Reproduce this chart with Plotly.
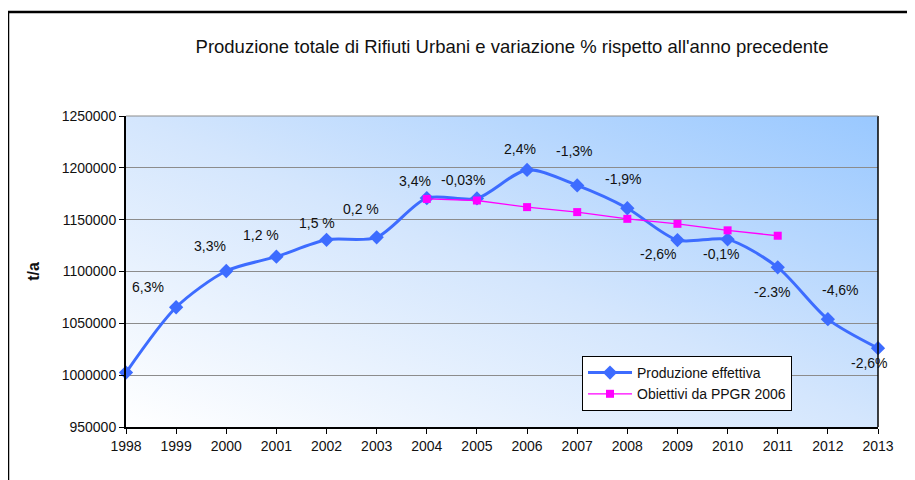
import plotly.graph_objects as go
import base64

# ---- data ----
years = list(range(1998, 2014))
produzione = [1002500, 1065500, 1100500, 1114300, 1130600, 1133000, 1170800, 1170500,
              1198000, 1183000, 1161000, 1130300, 1131000, 1104000, 1054000, 1026000]
obiettivi_years = list(range(2004, 2012))
obiettivi = [1170000, 1168500, 1162100, 1157300, 1150800, 1146000, 1139700, 1134500]
variazioni = ["6,3%", "3,3%", "1,2 %", "1,5 %", "0,2 %", "3,4%", "-0,03%", "2,4%",
              "-1,3%", "-1,9%", "-2,6%", "-0,1%", "-2.3%", "-4,6%", "-2,6%"]
variazioni_years = list(range(1999, 2014))
# label pixel offsets (style)
lbl_dx = [-28, -16, -15, -10, -16, -12, -14, -7, -3, -4, -19, -6, -5, 13, -9]
lbl_dy = [20, 25, 22, 17, 28, 17, 18, 21, 34, 29, -14, -15, -25, 29, -15]

FONT = "Arial, Liberation Sans, sans-serif"
BLUE = "#3D6CFF"
MAG = "#FF00FF"

# page body has an 8px margin -> figure is 8px smaller and offset
W, H = 907, 472
L, R, T, B = 118, 37, 108, 53
pw, ph = W - L - R, H - T - B

fig = go.Figure()
fig.add_trace(go.Scatter(
    x=years, y=produzione, name="Produzione effettiva", mode="lines+markers",
    line=dict(color=BLUE, width=3, shape="spline", smoothing=0.8),
    marker=dict(symbol="diamond", size=11, color=BLUE), cliponaxis=False))
fig.add_trace(go.Scatter(
    x=obiettivi_years, y=obiettivi, name="Obiettivi da PPGR 2006", mode="lines+markers",
    line=dict(color=MAG, width=1.3),
    marker=dict(symbol="square", size=8, color=MAG), cliponaxis=False))

val_by_year = dict(zip(years, produzione))
for yr, txt, dx, dy in zip(variazioni_years, variazioni, lbl_dx, lbl_dy):
    fig.add_annotation(x=yr, y=val_by_year[yr], text=txt, showarrow=False,
                       xshift=dx, yshift=dy, font=dict(family=FONT, size=14, color="#111"))

svg = ('<svg xmlns="http://www.w3.org/2000/svg" width="100" height="100" preserveAspectRatio="none">'
       '<defs><linearGradient id="g" x1="0" y1="1" x2="1" y2="0">'
       '<stop offset="0" stop-color="#FFFFFF"/><stop offset="0.5" stop-color="#D4E6FD"/>'
       '<stop offset="1" stop-color="#99C8FF"/></linearGradient></defs>'
       '<rect width="100" height="100" fill="url(#g)"/></svg>')
src = "data:image/svg+xml;base64," + base64.b64encode(svg.encode()).decode()
fig.add_layout_image(dict(source=src, xref="paper", yref="paper", x=0, y=1,
                          sizex=1, sizey=1, sizing="stretch", layer="below",
                          xanchor="left", yanchor="top"))

# outer frame (top & left)
fx = (0 - L) / pw
fy = 1 + (T - 4) / ph
fig.add_shape(type="line", xref="paper", yref="paper", x0=fx, x1=1.5, y0=fy, y1=fy,
              line=dict(color="black", width=2.5))
fig.add_shape(type="line", xref="paper", yref="paper", x0=fx, x1=fx, y0=-0.5, y1=fy,
              line=dict(color="black", width=2.5))

fig.update_layout(
    width=W, height=H,
    margin=dict(l=L, r=R, t=T, b=B),
    paper_bgcolor="white", plot_bgcolor="rgba(0,0,0,0)",
    font=dict(family=FONT, size=14, color="#111"),
    title=dict(text="Produzione totale di Rifiuti Urbani e variazione % rispetto all'anno precedente",
               x=(512 - 8 - L) / pw, xanchor="center", y=1 - (47 - 8) / H, yanchor="middle",
               xref="paper", yref="container",
               font=dict(family=FONT, size=18.5, color="#111")),
    showlegend=True,
    legend=dict(x=(582 - 8 - L) / pw, y=1 - (356 - 8 - T) / ph, xanchor="left", yanchor="top",
                bgcolor="white", bordercolor="black", borderwidth=1,
                font=dict(family=FONT, size=14, color="#111"), itemwidth=44),
    xaxis=dict(range=[1998, 2013], tickmode="array", tickvals=years,
               ticks="outside", ticklen=5, tickcolor="black",
               showline=True, linecolor="black", linewidth=2, showgrid=False,
               zeroline=False, mirror=False),
    yaxis=dict(range=[950000, 1250000], dtick=50000, tickformat="d",
               ticks="outside", ticklen=5, tickcolor="black",
               showline=True, linecolor="black", linewidth=2,
               showgrid=True, gridcolor="#8C8C8C", gridwidth=1, zeroline=False,
               title=dict(text="<b>t/a</b>", font=dict(family=FONT, size=16), standoff=18)),
)
# right border of plot area
fig.add_shape(type="line", xref="paper", yref="paper", x0=1, x1=1, y0=0, y1=1,
              line=dict(color="black", width=1.5))
fig.add_shape(type="line", xref="paper", yref="paper", x0=0, x1=1, y0=1, y1=1,
              line=dict(color="#8C8C8C", width=1))

fig.write_html("out.html")
